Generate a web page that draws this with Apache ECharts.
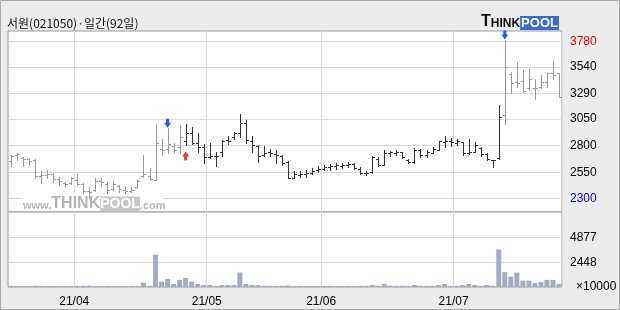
<!DOCTYPE html>
<html>
<head>
<meta charset="UTF-8">
<title>서원(021050) 일간</title>
<script src="https://cdn.jsdelivr.net/npm/echarts@6.0.0/dist/echarts.min.js"></script>
<style>
    html, body { margin: 0; padding: 0; background: #ececec; }
    #chart { width: 620px; height: 310px; }
</style>
</head>
<body>
<div id="chart"></div>
<script>
// trading days, 2021-03-17 .. 2021-07-26 (92 days)
const march = [17, 18, 19, 22, 23, 24, 25, 26, 29, 30, 31];
const april = [1, 2, 5, 6, 7, 8, 9, 12, 13, 14, 15, 16, 19, 20, 21, 22, 23, 26, 27, 28, 29, 30];
const may = [3, 4, 6, 7, 10, 11, 12, 13, 14, 17, 18, 20, 21, 24, 25, 26, 27, 28, 31];
const june = [1, 2, 3, 4, 7, 8, 9, 10, 11, 14, 15, 16, 17, 18, 21, 22, 23, 24, 25, 28, 29, 30];
const july = [1, 2, 5, 6, 7, 8, 9, 12, 13, 14, 15, 16, 19, 20, 21, 22, 23, 26];

const open = [
    2660, 2710, 2680, 2670, 2665, 2510, 2520, 2530, 2490, 2450,
    2450, 2480, 2440, 2370, 2380, 2470, 2440, 2390, 2420, 2385,
    2370, 2410, 2515, 2514, 2480, 2765, 2765, 2800, 2790, 2840,
    2916, 2822, 2785, 2695, 2705, 2740, 2853, 2878, 2920, 3010,
    2840, 2800, 2710, 2740, 2725, 2705, 2650, 2500, 2525, 2530,
    2545, 2570, 2585, 2600, 2605, 2612, 2618, 2630, 2585, 2545,
    2550, 2670, 2620, 2735, 2735, 2740, 2665, 2650, 2760, 2710,
    2735, 2760, 2835, 2845, 2830, 2835, 2730, 2745, 2780, 2720,
    2665, 2680, 3086, 3480, 3400, 3410, 3340, 3340, 3356, 3400,
    3482, 3482
];
const high = [
    2715, 2730, 2690, 2680, 2671, 2564, 2570, 2539, 2502, 2461,
    2505, 2535, 2445, 2410, 2492, 2492, 2461, 2467, 2430, 2407,
    2407, 2476, 2712, 2586, 3004, 2860, 2965, 2828, 2995, 3004,
    2973, 2916, 2820, 2828, 2743, 2855, 2891, 2932, 3098, 3042,
    2891, 2810, 2800, 2765, 2756, 2710, 2660, 2560, 2560, 2575,
    2590, 2605, 2618, 2625, 2634, 2640, 2646, 2640, 2596, 2564,
    2703, 2690, 2759, 2753, 2759, 2745, 2671, 2775, 2765, 2759,
    2784, 2847, 2891, 2869, 2860, 2835, 2860, 2835, 2790, 2734,
    2668, 3183, 3796, 3498, 3592, 3513, 3520, 3425, 3466, 3488,
    3600, 3488
];
const low = [
    2610, 2665, 2612, 2618, 2492, 2445, 2500, 2461, 2429, 2420,
    2440, 2430, 2350, 2305, 2375, 2420, 2357, 2382, 2366, 2357,
    2360, 2398, 2508, 2476, 2476, 2712, 2730, 2727, 2734, 2806,
    2816, 2743, 2640, 2681, 2608, 2700, 2812, 2860, 2885, 2822,
    2743, 2645, 2703, 2703, 2634, 2618, 2492, 2492, 2502, 2502,
    2533, 2555, 2570, 2571, 2585, 2587, 2596, 2577, 2535, 2520,
    2545, 2612, 2615, 2703, 2712, 2680, 2633, 2633, 2690, 2690,
    2728, 2759, 2790, 2797, 2806, 2712, 2720, 2743, 2700, 2665,
    2596, 2671, 3004, 3300, 3356, 3309, 3325, 3237, 3340, 3356,
    3425, 3255
];
const close = [
    2705, 2720, 2670, 2660, 2515, 2520, 2535, 2490, 2470, 2440,
    2500, 2440, 2370, 2360, 2470, 2460, 2380, 2440, 2390, 2370,
    2380, 2470, 2530, 2483, 2822, 2760, 2820, 2760, 2880, 2916,
    2830, 2790, 2690, 2700, 2700, 2845, 2847, 2916, 3010, 2850,
    2806, 2700, 2735, 2730, 2710, 2640, 2495, 2530, 2535, 2545,
    2565, 2585, 2600, 2610, 2615, 2618, 2632, 2590, 2545, 2545,
    2690, 2620, 2735, 2740, 2745, 2690, 2650, 2760, 2712, 2740,
    2765, 2840, 2845, 2835, 2840, 2730, 2740, 2810, 2720, 2670,
    2665, 3067, 3538, 3388, 3395, 3315, 3430, 3340, 3400, 3482,
    3466, 3255
];
// volume, x10000
const volume = [
    110, 90, 80, 100, 120, 110, 90, 100, 90, 80,
    100, 110, 120, 130, 100, 90, 100, 90, 80, 90,
    100, 110, 430, 120, 3190, 530, 800, 300, 700, 900,
    530, 300, 200, 200, 110, 200, 200, 200, 1430, 300,
    200, 200, 120, 110, 100, 120, 150, 110, 100, 90,
    100, 90, 100, 110, 100, 90, 110, 100, 120, 110,
    200, 120, 300, 130, 110, 120, 110, 200, 120, 110,
    120, 200, 300, 110, 120, 200, 300, 200, 120, 200,
    130, 3690, 1460, 1025, 1425, 630, 630, 370, 500, 700,
    700, 300
];

const priceTicks = [2300, 2550, 2800, 3050, 3290, 3540, 3780];
const volumeTicks = [2448, 4877];
const sellSignals = [26, 82];
const buySignals = [29];

const pad = n => (n < 10 ? '0' : '') + n;
const dates = [];
[[3, march], [4, april], [5, may], [6, june], [7, july]].forEach(([m, days]) => {
    days.forEach(d => dates.push('2021-' + pad(m) + '-' + pad(d)));
});
const isMonthStart = dates.map((d, i) => i > 0 && d.slice(5, 7) !== dates[i - 1].slice(5, 7));

const font = "'Liberation Sans', Arial, sans-serif";
const gridColor = '#dadada';
const frameColor = '#9a9a9a';

function barColor(i) {
    return (i >= 29 && i <= 81) ? '#333333' : '#999999';
}

function renderBar(params, api) {
    const i = api.value(0);
    const px = Math.round(api.coord([i, api.value(4)])[0]);
    const x = px + 0.5;
    const yo = Math.round(api.coord([i, api.value(1)])[1]) + 0.5;
    const yc = Math.round(api.coord([i, api.value(2)])[1]) + 0.5;
    const yl = Math.round(api.coord([i, api.value(3)])[1]) + 1;
    const yh = Math.round(api.coord([i, api.value(4)])[1]);
    const style = { stroke: barColor(i), lineWidth: 1 };
    return {
        type: 'group',
        children: [
            { type: 'line', shape: { x1: x, y1: yh, x2: x, y2: yl }, style: style },
            { type: 'line', shape: { x1: px - 2, y1: yo, x2: px, y2: yo }, style: style },
            { type: 'line', shape: { x1: px + 1, y1: yc, x2: px + 3, y2: yc }, style: style }
        ]
    };
}

const chart = echarts.init(document.getElementById('chart'));

const option = {
    animation: false,
    backgroundColor: '#ececec',
    grid: [
        { left: 8, right: 58, top: 31, height: 181, show: true, backgroundColor: '#fff', borderColor: frameColor, borderWidth: 1 },
        { left: 8, right: 58, top: 212, height: 75, show: true, backgroundColor: '#fff', borderColor: frameColor, borderWidth: 1 }
    ],
    xAxis: [
        {
            type: 'category', gridIndex: 0, data: dates, boundaryGap: true,
            axisLine: { show: false }, axisTick: { show: false }, axisLabel: { show: false },
            splitLine: { show: true, interval: i => isMonthStart[i], lineStyle: { color: gridColor } }
        },
        {
            type: 'category', gridIndex: 1, data: dates, boundaryGap: true,
            axisLine: { show: false }, axisTick: { show: false },
            axisLabel: {
                interval: i => isMonthStart[i],
                formatter: v => v.slice(2, 4) + '/' + v.slice(5, 7),
                margin: 9, fontSize: 12, fontFamily: font, color: '#000',
                padding: [0, 6, 0, 0]
            },
            splitLine: { show: true, interval: i => isMonthStart[i], lineStyle: { color: gridColor } }
        }
    ],
    yAxis: [
        {
            type: 'value', gridIndex: 0, position: 'right', min: 2175, max: 3881,
            axisLine: { show: false },
            axisTick: { show: false, customValues: priceTicks },
            axisLabel: {
                customValues: priceTicks, margin: 8, fontSize: 12, fontFamily: font,
                formatter: v => String(v),
                color: v => Number(v) === 3780 ? '#e60000' : (Number(v) === 2300 ? '#0000cc' : '#000')
            },
            splitLine: { show: true, lineStyle: { color: gridColor } }
        },
        {
            type: 'value', gridIndex: 1, position: 'right', min: 0, max: 7400,
            axisLine: { show: false },
            axisTick: { show: false, customValues: volumeTicks },
            axisLabel: { customValues: volumeTicks, margin: 8, fontSize: 12, fontFamily: font, color: '#000', formatter: v => String(v) },
            splitLine: { show: true, lineStyle: { color: gridColor } }
        }
    ],
    graphic: [
        {
            type: 'rect', silent: true,
            shape: { x: 0.5, y: 0.5, width: 619, height: 309 },
            style: { fill: 'none', stroke: '#a8a8a8', lineWidth: 1 }
        },
        {
            type: 'text', x: 7, y: 23,
            style: { text: '서원(021050)·일간(92일)', fontSize: 12, fontFamily: "'Noto Sans CJK KR', sans-serif", fill: '#111', verticalAlign: 'middle' }
        },
        {
            type: 'text', x: 481, y: 22,
            style: {
                text: '{t|T}{h|HINK}{p|POOL}', verticalAlign: 'middle',
                rich: {
                    t: { fontSize: 16, fontWeight: 'bold', fontFamily: font, fill: '#111', verticalAlign: 'bottom' },
                    h: { fontSize: 12, fontWeight: 'bold', fontFamily: font, fill: '#111', verticalAlign: 'bottom' },
                    p: { fontSize: 13, fontWeight: 'bold', fontFamily: font, fill: '#fff', backgroundColor: '#3a6ad6', padding: [1, 1, 0, 1], verticalAlign: 'bottom' }
                }
            }
        },
        {
            type: 'rect', z: 1, silent: true,
            shape: { x: 22, y: 193, width: 141, height: 18 },
            style: { fill: '#fff' }
        },
        {
            type: 'text', z: 1, x: 23, y: 203.5,
            style: {
                text: '{w|www.}{t|THINK}{p|POOL}{w|.com}', verticalAlign: 'middle',
                rich: {
                    w: { fontSize: 11, fontWeight: 'bold', fontFamily: font, fill: '#b8b8b8', verticalAlign: 'bottom' },
                    t: { fontSize: 16, fontWeight: 'bold', fontFamily: font, fill: '#b4b4b4', verticalAlign: 'bottom' },
                    p: { fontSize: 14, fontWeight: 'bold', fontFamily: font, fill: '#fff', backgroundColor: '#c6c6c6', padding: [1, 0, 0, 0], verticalAlign: 'bottom' }
                }
            }
        },
        {
            type: 'text', x: 576, y: 286.5,
            style: { text: '×10000', fontSize: 12, fontFamily: font, fill: '#000', verticalAlign: 'middle' }
        }
    ],
    series: [
        {
            type: 'custom', xAxisIndex: 0, yAxisIndex: 0,
            data: dates.map((d, i) => [i, open[i], close[i], low[i], high[i]]),
            encode: { x: 0, y: [1, 2, 3, 4] },
            renderItem: renderBar, clip: false, silent: true, z: 3
        },
        {
            type: 'scatter', xAxisIndex: 0, yAxisIndex: 0,
            data: sellSignals.map(i => [i, high[i]]),
            symbol: 'path://M2,0H5V4H7L3.5,9L0,4H2Z', symbolSize: [7, 9], symbolOffset: [0, -5],
            itemStyle: { color: '#1b60e8', opacity: 1 }, silent: true, z: 4
        },
        {
            type: 'scatter', xAxisIndex: 0, yAxisIndex: 0,
            data: buySignals.map(i => [i, low[i]]),
            symbol: 'path://M3.5,0L7,5H5V9H2V5H0Z', symbolSize: [7, 9], symbolOffset: [0, 11],
            itemStyle: { color: '#e8401c', opacity: 1 }, silent: true, z: 4
        },
        {
            type: 'bar', xAxisIndex: 1, yAxisIndex: 1,
            data: volume, barWidth: 5,
            itemStyle: { color: '#a4abc3' }, silent: true
        }
    ]
};

chart.setOption(option);
</script>
</body>
</html>
